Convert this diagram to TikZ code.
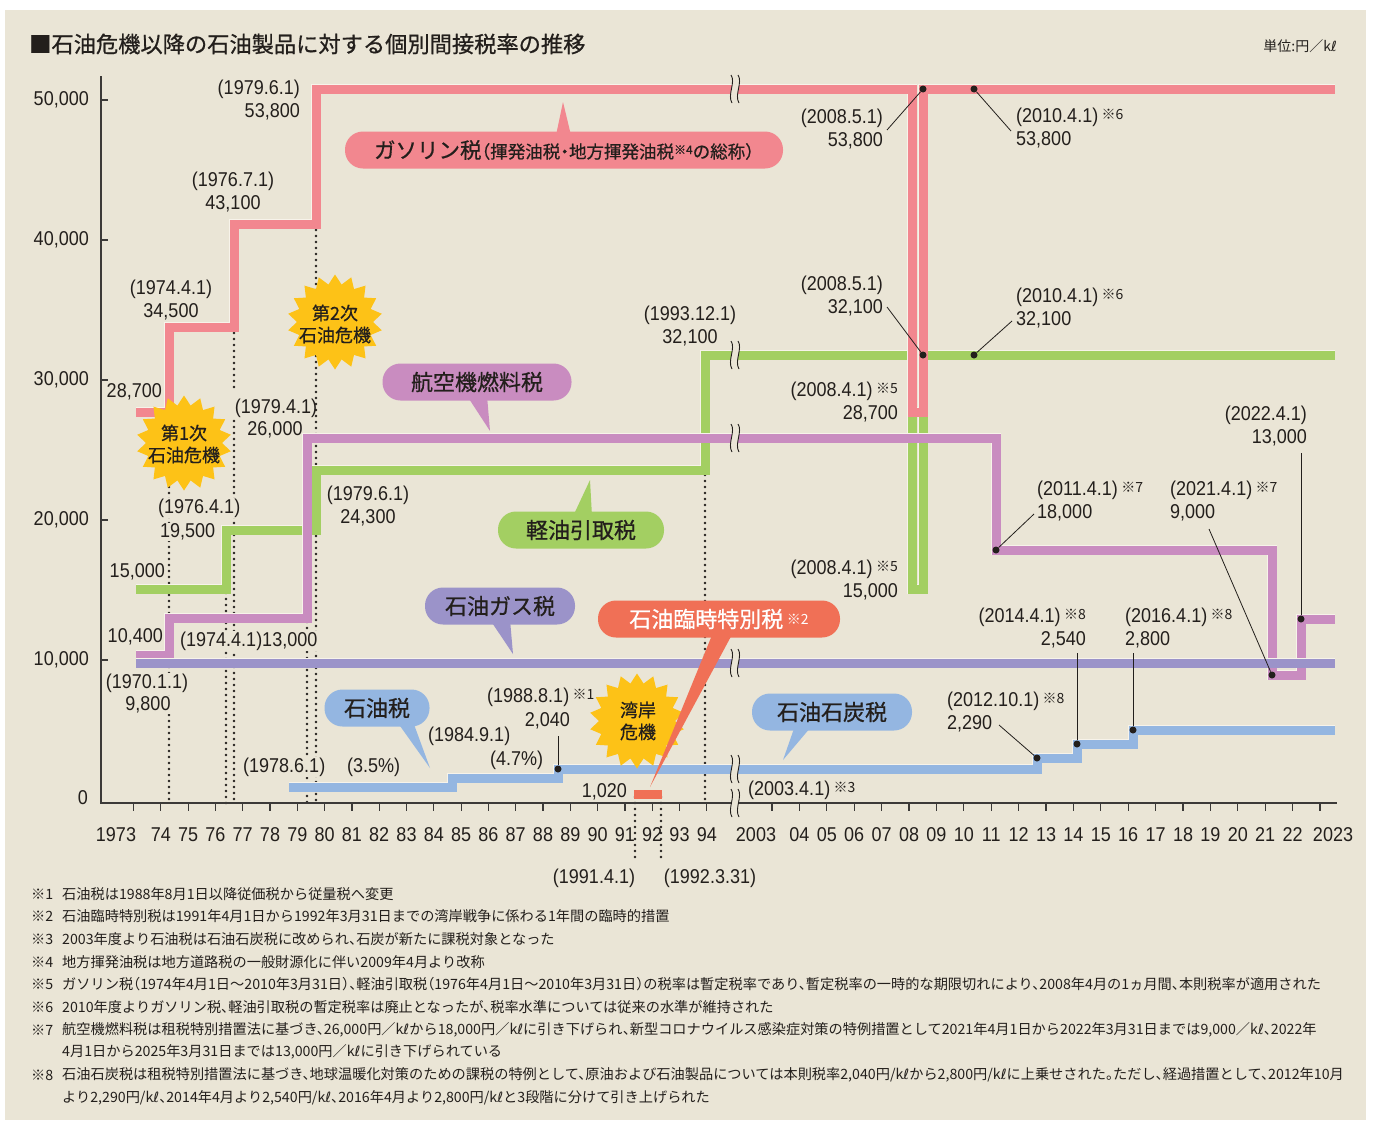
\documentclass[tikz,border=0pt]{standalone}
\usepackage{fontspec}
\setmainfont{Noto Sans CJK JP}
\newfontfamily\nmf{Liberation Sans}[FakeStretch=0.9]
\newfontfamily\ftf{Noto Sans CJK JP}[RawFeature=+halt]
\newfontfamily\clf{Noto Sans CJK JP}[FakeBold=0.7,RawFeature=+halt]
\newfontfamily\dvf{DejaVu Sans}
\usetikzlibrary{shapes.geometric,calc}
\definecolor{bg}{HTML}{EAE5D6}
\definecolor{edge}{HTML}{F7F3EA}
\definecolor{cPink}{HTML}{F2878F}
\definecolor{cGreen}{HTML}{A3CF62}
\definecolor{cViolet}{HTML}{C98CC0}
\definecolor{cGas}{HTML}{9B93C9}
\definecolor{cBlue}{HTML}{94B6E1}
\definecolor{cRed}{HTML}{F07056}
\definecolor{cSun}{HTML}{FDC217}
\definecolor{ink}{HTML}{231F1C}
\definecolor{axc}{HTML}{3C3A38}
\newcommand\kil{k{\dvf ℓ}}
\newcommand\kmark[1]{\,\raisebox{2.5pt}{\rmfamily\fontsize{14}{14}\selectfont ※#1}}
\newcommand\lblfont{\fontsize{20}{23}\selectfont\nmf}
\newcommand\callfont{\fontsize{22}{24}\selectfont\clf}
\newcommand\sunfont{\fontsize{18}{22}\selectfont\clf}
\newcommand\footfont{\fontsize{14.2}{16}\selectfont\ftf}
\tikzset{
  tax/.style={line width=0.8pt, draw=edge, double=#1, double distance=9pt},
  dotv/.style={draw=ink, line width=2.8pt, dash pattern=on 0pt off 6pt, line cap=round},
  axisln/.style={draw=axc, line width=1.2pt},
  lead/.style={draw=ink, line width=0.8pt},
  pt/.style={circle, fill=ink, inner sep=0pt, minimum size=7pt},
  lbl/.style={font=\lblfont, text=ink, inner sep=0pt},
  lblf/.style={lbl, fill=bg, inner ysep=1pt, inner xsep=2pt},
  pill/.style={rounded corners=18pt, minimum height=37pt, inner sep=0pt, text=ink, font=\callfont, fill=#1},
  sun/.style={star, star points=18, star point ratio=1.25, minimum size=95pt, fill=cSun, inner sep=0pt},
  suntext/.style={font=\sunfont, text=ink, align=center, inner sep=0pt},
  brkl/.style={draw=ink, line width=0.9pt},
  foot/.style={font=\footfont, text=ink, inner sep=0pt, anchor=west},
  brk/.pic={
    \fill[bg] (-4,-14) .. controls (1,-7) and (-8,6) .. (-3,14) -- (4,14) .. controls (-1,6) and (8,-7) .. (3,-14) -- cycle;
    \draw[brkl] (-4,-14) .. controls (1,-7) and (-8,6) .. (-3,14);
    \draw[brkl] (3,-14) .. controls (8,-7) and (-1,6) .. (4,14);
  }
}
\begin{document}
\begin{tikzpicture}[x=1pt,y=-1pt]
\useasboundingbox (0,0) rectangle (1375,1120);
\fill[white] (0,0) rectangle (1375,1120);
\fill[bg] (5,10) rectangle (1366,1120);

% dotted guide lines
\draw[dotv] (169,487) -- (169,803);
\draw[dotv] (226,593) -- (226,803);
\draw[dotv] (234,333) -- (234,393);
\draw[dotv] (234,421) -- (234,803);
\draw[dotv] (307,622) -- (307,803);
\draw[dotv] (316,224) -- (316,803);
\draw[dotv] (705,475) -- (705,803);
\draw[dotv] (635,797) -- (635,862);
\draw[dotv] (661,797) -- (661,862);

% axes
\draw[axisln] (101,76) -- (101,803) -- (1337,803);
\foreach \v in {100,240,380,520,660} \draw[axisln] (101,\v) -- ++(7,0);
\foreach \i in {0,...,21} \draw[axisln] ({133.5+\i*27.3},803) -- ++(0,8);
\foreach \i in {0,...,20} \draw[axisln] ({772+\i*27.4},803) -- ++(0,8);

% data lines
\draw[tax=cGreen] (136,589) -- (226,589) -- (226,530) -- (316,530) -- (316,470) -- (705,470) -- (705,355) -- (912,355) -- (912,589) -- (923,589) -- (923,355) -- (1335,355);
\draw[tax=cPink] (136,412) -- (169,412) -- (169,327) -- (234,327) -- (234,224) -- (316,224) -- (316,89) -- (912,89) -- (912,412) -- (923,412) -- (923,89) -- (1335,89);
\draw[tax=cViolet] (136,655) -- (169,655) -- (169,618) -- (307,618) -- (307,438) -- (996,438) -- (996,550) -- (1272,550) -- (1272,675) -- (1301,675) -- (1301,619) -- (1335,619);
\draw[tax=cGas] (136,663) -- (1335,663);
\draw[tax=cBlue] (289,787) -- (452,787) -- (452,778) -- (558,778) -- (558,769) -- (1037,769) -- (1037,758) -- (1077,758) -- (1077,744) -- (1133,744) -- (1133,730) -- (1335,730);
\fill[cRed] (634,790) rectangle (662,799);

% breaks
\foreach \yy in {89,355,438,663,769,803} \pic at (735,\yy) {brk};

% bursts
\node[sun] (s1) at (184,443) {};
\node[suntext] (s1t) at (184,444) {第1次\\石油危機};
\node[sun] (s2) at (335,322) {};
\node[suntext] (s2t) at (335,324) {第2次\\石油危機};
\node[sun] (s3) at (637,721) {};
\node[suntext] (s3t) at (638,721) {湾岸\\危機};

% callouts
\coordinate (gasTip) at (563,102);
\node[pill=cPink, minimum width=438pt] (gasC) at (564,150) {{\fontsize{21.5}{24}\selectfont ガソリン税}{\fontsize{17.5}{20}\selectfont （揮発油税・地方揮発油税\raisebox{4pt}{\fontsize{12}{12}\selectfont ※4}の総称）}};
\fill[cPink] ($(gasC.north)+(-8,4)$) -- (gasTip) -- ($(gasC.north)+(7,4)$) -- cycle;

\coordinate (avTip) at (490,431);
\node[pill=cViolet, minimum width=189pt] (avC) at (477,382) {航空機燃料税};
\fill[cViolet] ($(avC.south)+(-10,-5)$) -- (avTip) -- ($(avC.south)+(10,-5)$) -- cycle;

\coordinate (loTip) at (590,480);
\node[pill=cGreen, minimum width=166pt] (loC) at (581,530) {軽油引取税};
\fill[cGreen] ($(loC.north)+(-8,5)$) -- (loTip) -- ($(loC.north)+(11,5)$) -- cycle;

\coordinate (gtTip) at (513,654);
\node[pill=cGas, minimum width=150pt] (gtC) at (500,606) {石油ガス税};
\fill[cGas] ($(gtC.south)+(-10,-5)$) -- (gtTip) -- ($(gtC.south)+(10,-5)$) -- cycle;

\coordinate (tmTip) at (650,787);
\node[pill=cRed, minimum width=242pt, text=white] (tmC) at (719,619) {石油臨時特別税\kmark{2}};
\fill[cRed] ($(tmC.south)+(-6,-5)$) -- (tmTip) -- ($(tmC.south)+(14,-5)$) -- cycle;

\coordinate (otTip) at (430,768);
\node[pill=cBlue, minimum width=105pt] (otC) at (377,708) {石油税};
\fill[cBlue] ($(otC.south)+(20,-5)$) -- (otTip) -- ($(otC.south)+(36,-5)$) -- cycle;

\coordinate (ocTip) at (783,760);
\node[pill=cBlue, minimum width=160pt] (ocC) at (832,712) {石油石炭税};
\fill[cBlue] ($(ocC.south)+(-37,-5)$) -- (ocTip) -- ($(ocC.south)+(-20,-5)$) -- cycle;

% dots and leaders
\node[pt] (d1) at (558,769) {};   \coordinate (e1) at (558,736);   \draw[lead] (d1) -- (e1);
\node[pt] (d2) at (923,89) {};    \coordinate (e2) at (887,130);   \draw[lead] (d2) -- (e2);
\node[pt] (d3) at (974,89) {};    \coordinate (e3) at (1011,131);  \draw[lead] (d3) -- (e3);
\node[pt] (d4) at (923,355) {};   \coordinate (e4) at (887,307);   \draw[lead] (d4) -- (e4);
\node[pt] (d5) at (974,355) {};   \coordinate (e5) at (1012,321);  \draw[lead] (d5) -- (e5);
\node[pt] (d6) at (996,550) {};   \coordinate (e6) at (1034,514);  \draw[lead] (d6) -- (e6);
\node[pt] (d7) at (1272,675) {};  \coordinate (e7) at (1209,529);  \draw[lead] (d7) -- (e7);
\node[pt] (d8) at (1301,619) {};  \coordinate (e8) at (1301,453);  \draw[lead] (d8) -- (e8);
\node[pt] (d9) at (1037,758) {};  \coordinate (e9) at (999,725);   \draw[lead] (d9) -- (e9);
\node[pt] (d10) at (1077,744) {}; \coordinate (e10) at (1077,653); \draw[lead] (d10) -- (e10);
\node[pt] (d11) at (1133,730) {}; \coordinate (e11) at (1133,653); \draw[lead] (d11) -- (e11);

% value labels
\node[lbl, anchor=east, align=right] (L1) at (300,100) {(1979.6.1)\\53,800};
\node[lbl, align=center] (L2) at (233,192) {(1976.7.1)\\43,100};
\node[lbl, align=center] (L3) at (171,300) {(1974.4.1)\\34,500};
\node[lbl, anchor=east] (L4) at (162,392) {28,700};
\node[lbl] (L5a) at (276,408) {(1979.4.1)};
\node[lbl] (L5b) at (275,430) {26,000};
\node[lbl, align=center] (L6) at (368,506) {(1979.6.1)\\24,300};
\node[lblf, anchor=west] (L7a) at (156,508) {(1976.4.1)};
\node[lblf, anchor=west] (L7b) at (158,532) {19,500};
\node[lbl, anchor=east] (L8) at (165,572) {15,000};
\node[lbl, anchor=east] (L9) at (163,637) {10,400};
\node[lblf, anchor=west] (L10) at (178,641) {(1974.4.1)13,000};
\node[lblf] (L11a) at (147,683) {(1970.1.1)};
\node[lblf] (L11b) at (148,705) {9,800};
\node[lblf, anchor=west] (L12a) at (241,767) {(1978.6.1)};
\node[lbl, anchor=west] (L12b) at (347,767) {(3.5\%)};
\node[lbl, anchor=west] (L13a) at (428,736) {(1984.9.1)};
\node[lbl, anchor=west] (L13b) at (490,760) {(4.7\%)};
\node[lbl, anchor=west] (L14a) at (487,697) {(1988.8.1)\kmark{1}};
\node[lbl, anchor=east] (L14b) at (570,721) {2,040};
\node[lbl, anchor=east] (L15) at (627,792) {1,020};
\node[lbl, anchor=west] (L16) at (748,790) {(2003.4.1)\kmark{3}};
\node[lbl] (L17a) at (594,878) {(1991.4.1)};
\node[lbl] (L17b) at (710,878) {(1992.3.31)};
\node[lbl, align=center] (L18) at (690,326) {(1993.12.1)\\32,100};
\node[lbl, anchor=east, align=right] (L19) at (883,129) {(2008.5.1)\\53,800};
\node[lbl, anchor=west, align=left] (L20) at (1016,128) {(2010.4.1)\kmark{6}\\53,800};
\node[lbl, anchor=east, align=right] (L21) at (883,296) {(2008.5.1)\\32,100};
\node[lbl, anchor=west, align=left] (L22) at (1016,308) {(2010.4.1)\kmark{6}\\32,100};
\node[lbl, anchor=east, align=right] (L23) at (898,402) {(2008.4.1)\kmark{5}\\28,700};
\node[lbl, anchor=east, align=right] (L24) at (898,580) {(2008.4.1)\kmark{5}\\15,000};
\node[lbl, anchor=west, align=left] (L25) at (1037,501) {(2011.4.1)\kmark{7}\\18,000};
\node[lbl, anchor=west, align=left] (L26) at (1170,501) {(2021.4.1)\kmark{7}\\9,000};
\node[lbl, anchor=east, align=right] (L27) at (1307,426) {(2022.4.1)\\13,000};
\node[lbl, anchor=east, align=right] (L28) at (1086,628) {(2014.4.1)\kmark{8}\\2,540};
\node[lbl, anchor=west, align=left] (L29) at (1125,628) {(2016.4.1)\kmark{8}\\2,800};
\node[lbl, anchor=west, align=left] (L30) at (947,712) {(2012.10.1)\kmark{8}\\2,290};

% axis labels
\node[lbl, anchor=east] (y50) at (89,100) {50,000};
\node[lbl, anchor=east] (y40) at (89,240) {40,000};
\node[lbl, anchor=east] (y30) at (89,380) {30,000};
\node[lbl, anchor=east] (y20) at (89,520) {20,000};
\node[lbl, anchor=east] (y10) at (89,660) {10,000};
\node[lbl, anchor=east] (y0) at (88,798) {0};
\node[lbl] (x1973) at (116,835) {1973};
\foreach \yr in {74,...,94} \node[lbl] (x\yr) at ({133.5+(\yr-73)*27.3},835) {\yr};
\node[lbl] (x2003) at (756,835) {2003};
\foreach \yr [count=\i] in {04,05,06,07,08,09,10,11,12,13,14,15,16,17,18,19,20,21,22} \node[lbl] (xr\yr) at ({772+\i*27.4},835) {\yr};
\node[lbl] (x2023) at (1333,835) {2023};

% title and unit
\node[anchor=west, inner sep=0pt, text=ink, font=\fontsize{22.25}{24}\selectfont\clf] (title) at (29,44) {■石油危機以降の石油製品に対する個別間接税率の推移};
\node[anchor=east, inner sep=0pt, text=ink, font=\fontsize{14}{16}\selectfont] (unit) at (1337,46) {単位:円／\kil};

% footnotes
\node[foot] (fm1) at (31,894) {※1};
\node[foot] (ft1) at (62,894) {石油税は1988年8月1日以降従価税から従量税へ変更};
\node[foot] (fm2) at (31,916) {※2};
\node[foot] (ft2) at (62,916) {石油臨時特別税は1991年4月1日から1992年3月31日までの湾岸戦争に係わる1年間の臨時的措置};
\node[foot] (fm3) at (31,939) {※3};
\node[foot] (ft3) at (62,939) {2003年度より石油税は石油石炭税に改められ、石炭が新たに課税対象となった};
\node[foot] (fm4) at (31,962) {※4};
\node[foot] (ft4) at (62,962) {地方揮発油税は地方道路税の一般財源化に伴い2009年4月より改称};
\node[foot] (fm5) at (31,984) {※5};
\node[foot] (ft5) at (62,984) {ガソリン税（1974年4月1日～2010年3月31日）、軽油引取税（1976年4月1日～2010年3月31日）の税率は暫定税率であり、暫定税率の一時的な期限切れにより、2008年4月の1ヵ月間、本則税率が適用された};
\node[foot] (fm6) at (31,1007) {※6};
\node[foot] (ft6) at (62,1007) {2010年度よりガソリン税、軽油引取税の暫定税率は廃止となったが、税率水準については従来の水準が維持された};
\node[foot] (fm7) at (31,1030) {※7};
\node[foot] (ft7) at (62,1030) {航空機燃料税は租税特別措置法に基づき、26,000円／\kil から18,000円／\kil に引き下げられ、新型コロナウイルス感染症対策の特例措置として2021年4月1日から2022年3月31日までは9,000／\kil、2022年};
\node[foot] (ft7b) at (62,1052) {4月1日から2025年3月31日までは13,000円／\kil に引き下げられている};
\node[foot] (fm8) at (31,1075) {※8};
\node[foot] (ft8) at (62,1075) {石油石炭税は租税特別措置法に基づき、地球温暖化対策のための課税の特例として、原油および石油製品については本則税率2,040円/\kil から2,800円/\kil に上乗せされた。ただし、経過措置として、2012年10月};
\node[foot] (ft8b) at (62,1098) {より2,290円/\kil、2014年4月より2,540円/\kil、2016年4月より2,800円/\kil と3段階に分けて引き上げられた};
\end{tikzpicture}
\end{document}
